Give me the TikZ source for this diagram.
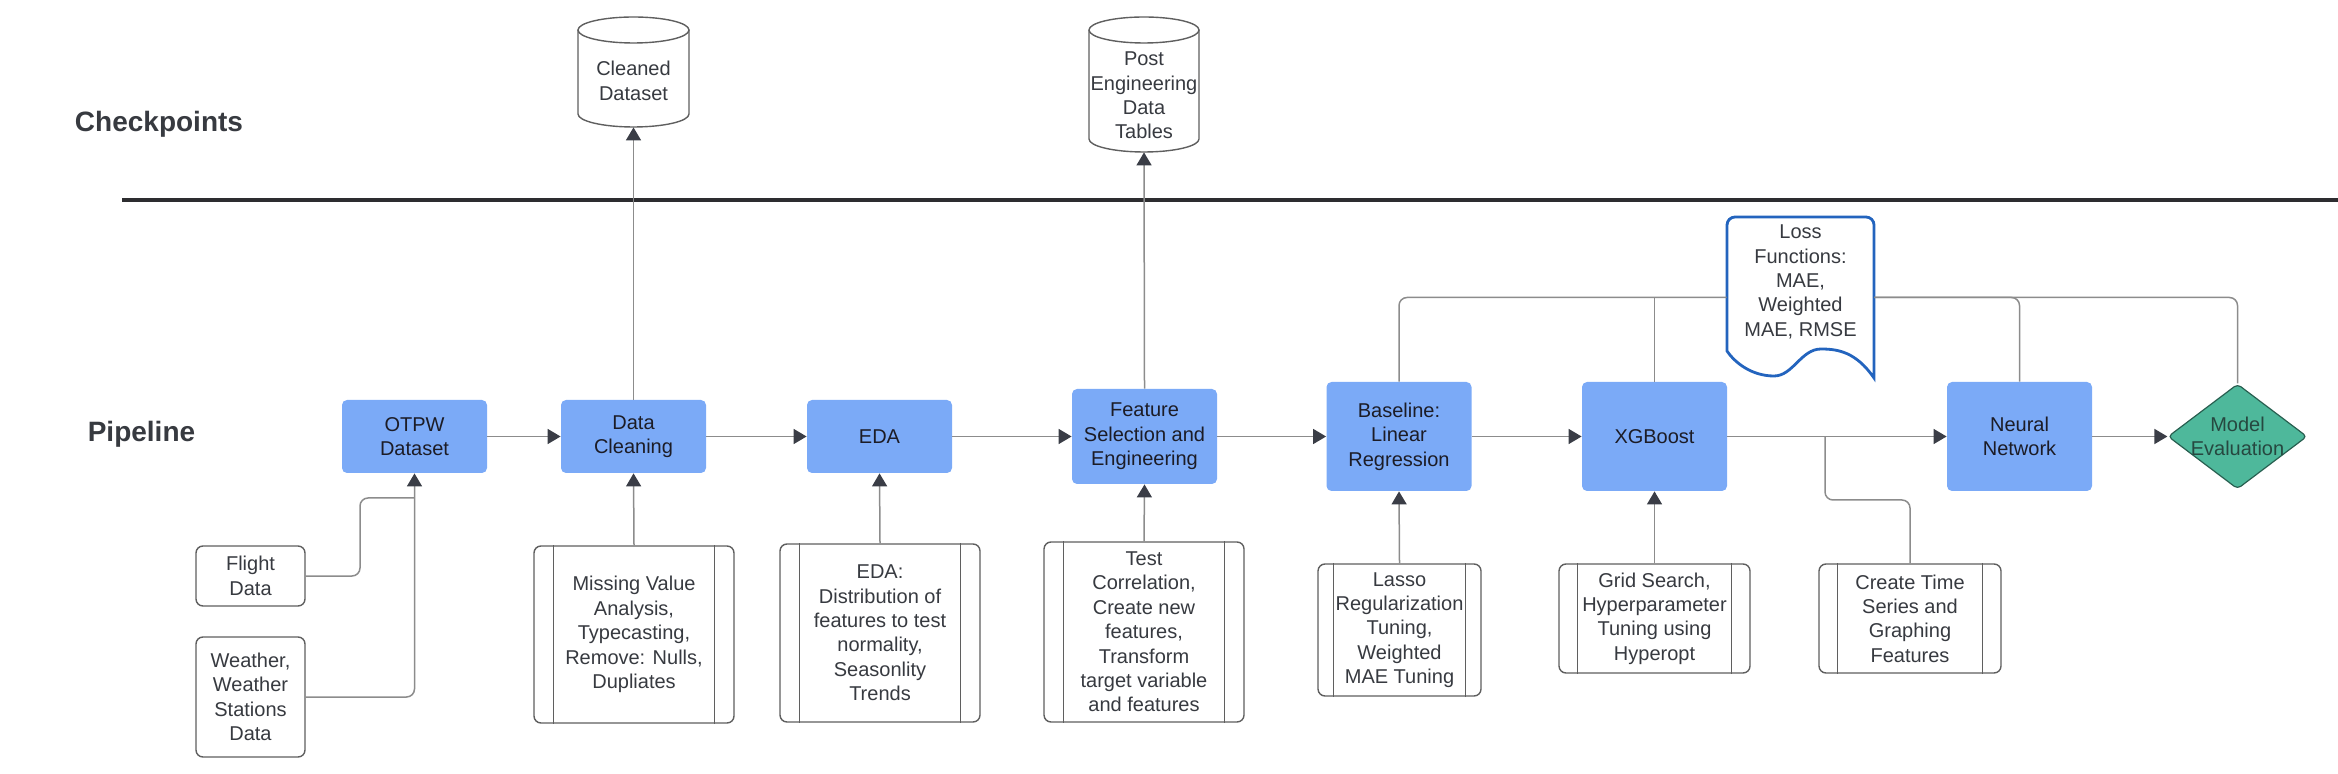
\documentclass[tikz,border=0pt]{standalone}
\usepackage{fontspec}
\setmainfont{Liberation Sans}
\usetikzlibrary{shapes.geometric,arrows.meta,calc}
\definecolor{boxblue}{RGB}{123,170,247}
\definecolor{tealfill}{RGB}{78,184,155}
\definecolor{tealedge}{RGB}{40,95,80}
\definecolor{tealtext}{RGB}{38,72,64}
\definecolor{docblue}{RGB}{35,100,190}
\definecolor{conngray}{RGB}{140,140,140}
\definecolor{tipgray}{RGB}{58,61,70}
\definecolor{txtdark}{RGB}{28,28,38}
\definecolor{edgegray}{RGB}{95,95,95}
\definecolor{labelgray}{RGB}{55,58,64}
\definecolor{rulegray}{RGB}{45,45,48}
\begin{document}
\begin{tikzpicture}[x=0.5pt,y=-0.5pt,
  every node/.style={font=\fontsize{10}{12.2}\selectfont, align=center, inner sep=0pt, text=txtdark},
  bluebox/.style={rectangle, rounded corners=2.5pt, fill=boxblue, minimum width=72.5pt},
  subbox/.style={rectangle, rounded corners=3.5pt, draw=edgegray, line width=0.7pt, fill=white, text=labelgray},
  srcbox/.style={rectangle, rounded corners=3.5pt, draw=edgegray, line width=0.7pt, fill=white, minimum width=54.5pt, text=labelgray},
  cylline/.style={draw=edgegray, line width=0.7pt},
  conn/.style={draw=conngray, line width=0.75pt, rounded corners=4pt},
  arr/.style={conn, -{Triangle[length=6.5pt,width=7.5pt,color=tipgray]}},
  sectlabel/.style={font=\fontsize{14}{16}\selectfont\bfseries, text=labelgray},
  hole/.style={rectangle, inner sep=0pt}
]
\useasboundingbox (0,0) rectangle (2338,774);

% section labels and rule
\node[sectlabel] (cpl) at (159,124) {Checkpoints};
\node[sectlabel] (ppl) at (141.5,434) {Pipeline};
\coordinate (ruleL) at (122,200);
\coordinate (ruleR) at (2338,200);
\draw[line width=2.2pt, draw=rulegray] (ruleL) -- (ruleR);

% checkpoint cylinders
\fill[white] (578,30) -- (578,114) arc[start angle=180,end angle=0,x radius=55.5,y radius=13] -- (689,30) -- cycle;
\draw[cylline] (578,30) -- (578,114) arc[start angle=180,end angle=0,x radius=55.5,y radius=13] -- (689,30);
\draw[cylline, fill=white] (633.5,30) ellipse[x radius=55.5, y radius=13];
\node[hole, minimum width=55.5pt, minimum height=55pt] (cd) at (633.5,72) {};
\node[text=labelgray] (cdtext) at (633.5,81) {Cleaned\\Dataset};

\fill[white] (1089,30) -- (1089,139) arc[start angle=180,end angle=0,x radius=55,y radius=13] -- (1199,30) -- cycle;
\draw[cylline] (1089,30) -- (1089,139) arc[start angle=180,end angle=0,x radius=55,y radius=13] -- (1199,30);
\draw[cylline, fill=white] (1144,30) ellipse[x radius=55, y radius=13];
\node[hole, minimum width=55pt, minimum height=67.5pt] (pe) at (1144,84.5) {};
\node[text=labelgray] (petext) at (1144,95.5) {Post\\Engineering\\Data\\Tables};

% loss functions document
\node[hole, minimum width=73.5pt, minimum height=80.5pt] (loss) at (1800.5,297.5) {};
\draw[draw=docblue, line width=1.4pt, fill=white]
  (1727,351) [rounded corners=4pt] -- (1727,217) -- (1874,217) [sharp corners] -- (1874,378)
  .. controls (1856,352) and (1838,349) .. (1821,349)
  .. controls (1801,349) and (1793,376) .. (1774,376)
  .. controls (1752,376) and (1735,363) .. (1727,351) -- cycle;
\node[text=labelgray] (losstext) at (1800.5,282) {Loss\\Functions:\\MAE,\\Weighted\\MAE, RMSE};

% pipeline boxes
\node[bluebox, minimum height=36.5pt] (otpw) at (414.5,436.5) {OTPW\\Dataset};
\node[bluebox, minimum height=36.5pt] (dc) at (633.5,436.5) {Data\\Cleaning};
\node[bluebox, minimum height=36.5pt] (eda) at (879.5,436.5) {EDA};
\node[bluebox, minimum height=47.5pt] (feat) at (1144.5,436.5) {Feature\\Selection and\\Engineering};
\node[bluebox, minimum height=54.5pt] (base) at (1399,436.5) {Baseline:\\Linear\\Regression};
\node[bluebox, minimum height=54.5pt] (xgb) at (1654.5,436.5) {XGBoost};
\node[bluebox, minimum height=54.5pt] (nn) at (2019.5,436.5) {Neural\\Network};
\node[diamond, fill=tealfill, draw=tealedge, line width=0.6pt, rounded corners=2pt,
      minimum width=69.5pt, minimum height=52.5pt, aspect=1.32] (me) at (2237.5,436.5) {};
\node[text=tealtext] (metext) at (2237.5,436.5) {Model\\Evaluation};

% source boxes
\node[srcbox, minimum height=30pt] (flight) at (250.5,576) {Flight\\Data};
\node[srcbox, minimum height=60pt] (weather) at (250.5,697) {Weather,\\Weather\\Stations\\Data};

% sub-process boxes
\node[subbox, minimum width=100pt, minimum height=88.5pt] (mv) at (634,634.5) {Missing Value\\Analysis,\\Typecasting,\\Remove: Nulls,\\Dupliates};
\node[subbox, minimum width=100pt, minimum height=89pt] (edas) at (880,633) {EDA:\\Distribution of\\features to test\\normality,\\Seasonlity\\Trends};
\node[subbox, minimum width=100pt, minimum height=90pt] (feats) at (1144,632) {Test\\Correlation,\\Create new\\features,\\Transform\\target variable\\and features};
\node[subbox, minimum width=81.5pt, minimum height=66pt] (lasso) at (1399.5,630) {Lasso\\Regularization\\Tuning,\\Weighted\\MAE Tuning};
\node[subbox, minimum width=95.5pt, minimum height=54.5pt] (grid) at (1654.5,618.5) {Grid Search,\\Hyperparameter\\Tuning using\\Hyperopt};
\node[subbox, minimum width=91pt, minimum height=54.5pt] (ct) at (1910,618.5) {Create Time\\Series and\\Graphing\\Features};

\foreach \n/\d in {mv/20, edas/20, feats/20, lasso/16, grid/19, ct/19}{
  \draw[draw=edgegray, line width=0.7pt] ($(\n.north west)+(\d,0)$) -- ($(\n.south west)+(\d,0)$);
  \draw[draw=edgegray, line width=0.7pt] ($(\n.north east)+(-\d,0)$) -- ($(\n.south east)+(-\d,0)$);
}

% main flow
\draw[arr] (otpw) -- (dc);
\draw[arr] (dc) -- (eda);
\draw[arr] (eda) -- (feat);
\draw[arr] (feat) -- (base);
\draw[arr] (base) -- (xgb);
\draw[arr] (xgb) -- (nn);
\draw[arr] (nn) -- (me);

% to checkpoints
\draw[arr] (dc.north) -- (cd.south);
\draw[arr] (feat.north) -- (pe.south);

% inputs from below
\coordinate (fbend) at (360,498);
\coordinate (fjoin) at (414.5,498);
\draw[conn] (flight.east) -| (fbend) -- (fjoin);
\draw[arr] (weather.east) -| (otpw.south);
\draw[arr] (mv.north) -- (dc.south);
\draw[arr] (edas.north) -- (eda.south);
\draw[arr] (feats.north) -- (feat.south);
\draw[arr] (lasso.north) -- (base.south);
\draw[arr] (grid.north) -- (xgb.south);
\coordinate (tsbend) at (1825,500);
\coordinate (tsjoin) at (1825,436.5);
\draw[conn] (ct.north) |- (tsbend) -- (tsjoin);

% loss function links
\draw[conn] (base.north) |- (loss.west);
\draw[conn] (xgb.north) -- (xgb.north |- loss.west);
\draw[conn] (loss.east) -| (nn.north);
\draw[conn] (loss.east) -| (me.north);
\end{tikzpicture}
\end{document}
